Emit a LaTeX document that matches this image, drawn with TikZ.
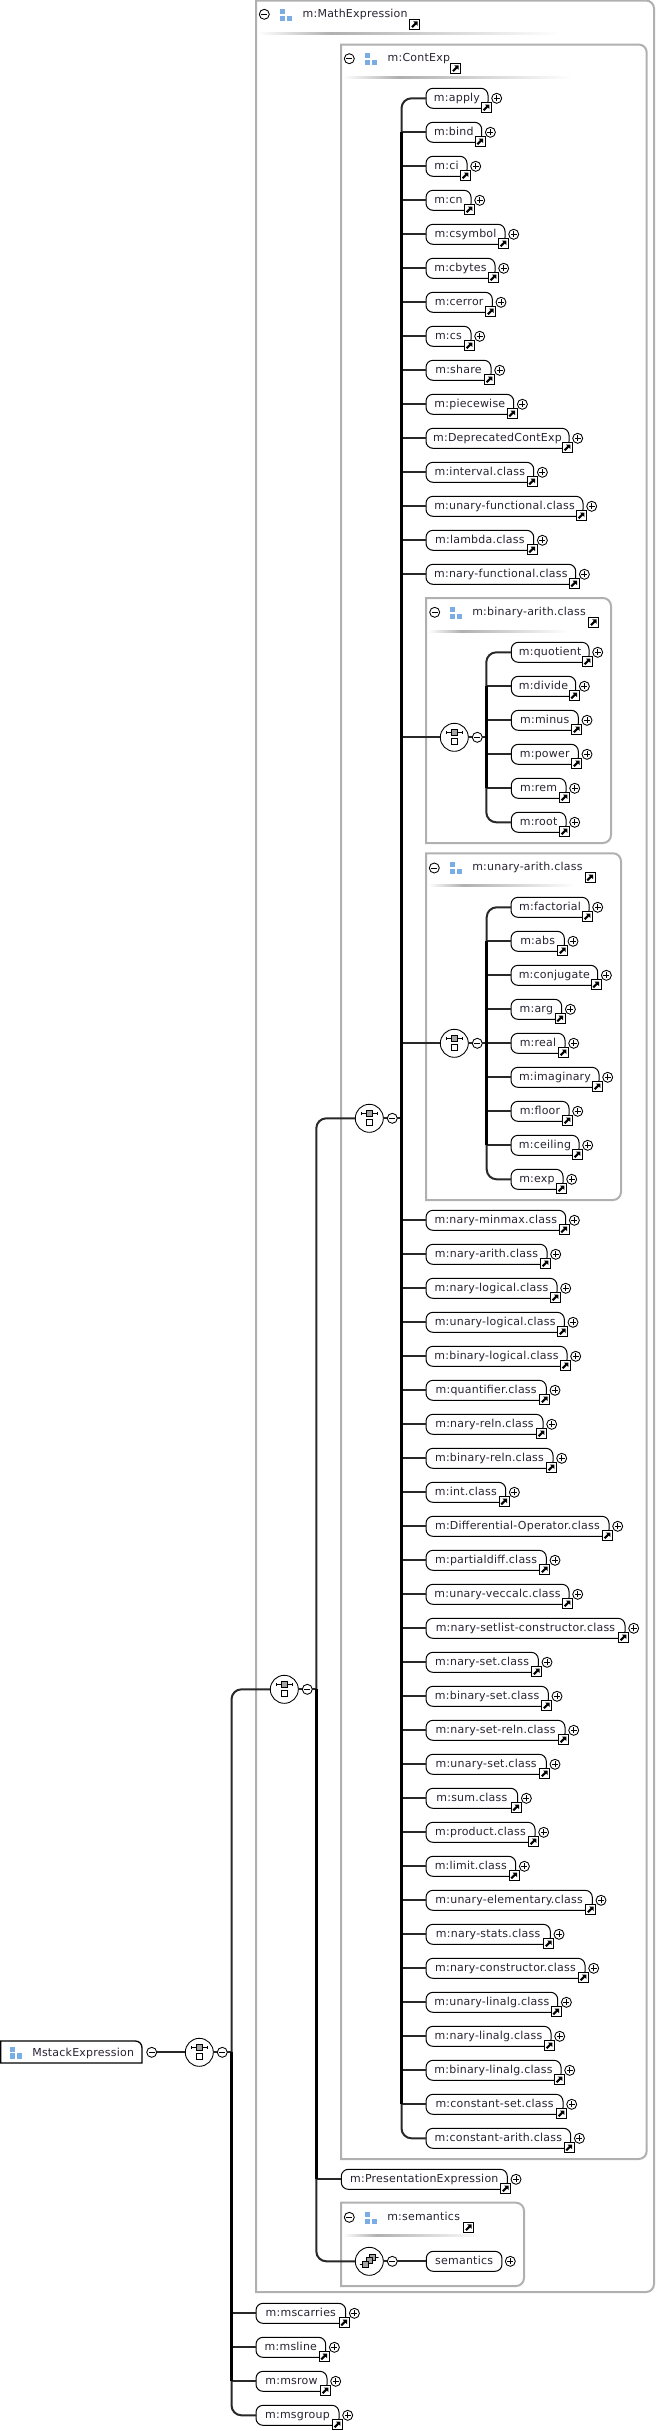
\documentclass[tikz,border=0pt]{standalone}
\usepackage{fontspec}
\setmainfont[LetterSpace=2]{DejaVu Sans}

\definecolor{framegray}{RGB}{176,176,176}
\definecolor{wireink}{RGB}{40,40,40}
\definecolor{labelink}{RGB}{40,35,50}
\definecolor{iconblue}{RGB}{122,173,227}
\definecolor{boxgray}{RGB}{165,165,165}

\pgfdeclarehorizontalshading{headerfade}{100bp}{color(0bp)=(white); color(25bp)=(white); color(37bp)=(framegray); color(75bp)=(white); color(100bp)=(white)}

\tikzset{
  every picture/.style={line width=0.75pt},
  labelfont/.style={font=\fontsize{8.25pt}{10pt}\selectfont, text=labelink, text height=6.6pt, text depth=1.1pt},
  pillnode/.style={labelfont, rectangle, draw=black, fill=white, line width=0.75pt, rounded corners=5.25pt, minimum height=15pt, inner xsep=0pt, inner ysep=0pt, outer sep=0pt, anchor=west},
  grouptitle/.style={labelfont, inner sep=0pt, outer sep=0pt, anchor=west},
  framebox/.style={draw=framegray, line width=1.5pt},
  branch/.style={draw=wireink, line width=1.5pt},
  stem/.style={draw=black, line width=2.7pt},
  plusmark/.style={circle, draw=black, fill=white, line width=0.65pt, minimum size=7.5pt, inner sep=0pt, outer sep=0pt,
    path picture={
      \draw[line width=0.6pt] ([xshift=-2.2pt]path picture bounding box.center) -- ([xshift=2.2pt]path picture bounding box.center);
      \draw[line width=0.6pt] ([yshift=-2.2pt]path picture bounding box.center) -- ([yshift=2.2pt]path picture bounding box.center);
    }},
  minusmark/.style={circle, draw=black, fill=white, line width=0.65pt, minimum size=7.5pt, inner sep=0pt, outer sep=0pt,
    path picture={
      \draw[line width=0.6pt] ([xshift=-2.2pt]path picture bounding box.center) -- ([xshift=2.2pt]path picture bounding box.center);
    }},
  linkbox/.style={rectangle, draw=black, fill=white, line width=0.75pt, minimum size=7.5pt, inner sep=0pt, outer sep=0pt,
    path picture={
      \begin{scope}[shift={(path picture bounding box.center)}, x=0.75pt, y=-0.75pt]
        \fill[black] (3,-3) -- (3,1.5) -- (1.5,0) -- (-2,3.5) -- (-3.5,2) -- (0,-1.5) -- (-1.5,-3) -- cycle;
      \end{scope}
    }},
  seqcircle/.style={circle, draw=black, fill=white, line width=0.65pt, minimum size=21pt, inner sep=0pt, outer sep=0pt,
    path picture={
      \begin{scope}[shift={(path picture bounding box.center)}, x=0.75pt, y=-0.75pt, line width=0.65pt]
        \draw (-8,-5) -- (8,-5);
        \draw (-8,-6.5) -- (-8,-3.5);
        \draw (8,-6.5) -- (8,-3.5);
        \draw[fill=boxgray] (-3,-8) rectangle (3,-2);
        \draw[fill=white] (-3,1.5) rectangle (3,7.5);
      \end{scope}
    }},
  allcircle/.style={circle, draw=black, fill=white, line width=0.65pt, minimum size=21pt, inner sep=0pt, outer sep=0pt,
    path picture={
      \begin{scope}[shift={(path picture bounding box.center)}, x=0.75pt, y=-0.75pt, line width=0.65pt]
        \draw (-10,3.5) -- (-6,3.5);
        \draw (5,-3.5) -- (10,-3.5);
        \fill (-10,3.5) circle (0.9);
        \fill (10,-3.5) circle (0.9);
        \draw[fill=boxgray] (0.5,-6.5) rectangle (6,-1);
        \draw[fill=boxgray] (-2.5,-3.5) rectangle (3,2);
        \draw[fill=boxgray] (-6.5,0.5) rectangle (-1,6);
      \end{scope}
    }},
  groupicon/.pic={
    \begin{scope}[yscale=-1]
      \fill[iconblue] (-6,-6) rectangle (-0.7,-0.7);
      \fill[iconblue] (-6,0.7) rectangle (-0.7,6);
      \fill[iconblue] (0.7,0.7) rectangle (6,6);
    \end{scope}
  },
}

% name, left, y, right, text
\newcommand{\pillbody}[5]{
  \node[pillnode, minimum width={(#4-#2)*0.75pt}] (#1) at (#2,#3) {#5};
  \node[linkbox] (#1Link) at (#4-1.7,#3+9.2) {};
  \node[plusmark] (#1Plus) at (#4+8.7,#3) {};
}
% name, trunk, left, y, right, text
\newcommand{\leafpill}[6]{
  \pillbody{#1}{#3}{#4}{#5}{#6}
  \draw[branch] (#2 |- #1.west) -- (#1.west);
}
% left, top, right, bottom
\newcommand{\groupframe}[4]{
  \draw[framebox] (#1,#2) -- (#1+40,#2) [rounded corners=6pt] -- (#3,#2) -- (#3,#4) -- (#1+40,#4) [sharp corners] -- (#1,#4) -- cycle;
}

\begin{document}
\begin{tikzpicture}[x=0.75pt,y=0.75pt,yscale=-1,xscale=1]
  \useasboundingbox (0,0) rectangle (657,2431);

  %Group frames
  \groupframe{256}{0.5}{654}{2292}
  \groupframe{341}{44.5}{646.7}{2159}
  \groupframe{426}{598}{611}{843}
  \groupframe{426}{853.3}{621}{1200}
  \groupframe{341}{2202.7}{524}{2286}

  %Header fades
  \shade[shading=headerfade] (258,32) rectangle (560,34);
  \shade[shading=headerfade] (343,76) rectangle (573,78);
  \shade[shading=headerfade] (428,630) rectangle (568,632);
  \shade[shading=headerfade] (428,884.7) rectangle (575,886.7);
  \shade[shading=headerfade] (343,2234.7) rectangle (482,2236.7);

  %Root element
  \draw[draw=black, line width=1pt] (0.7,2063) -- (0.7,2041) [rounded corners=5pt] -- (142,2041) [sharp corners] -- (142,2063) -- cycle;
  \pic at (16,2052.7) {groupicon};
  \node[grouptitle] (rootLabel) at (32.3,2052.4) {MstackExpression};
  \node[minusmark] (rootMinus) at (151.7,2052.3) {};

  %Trunk lines
  \coordinate (trunkOuter) at (231.5,2052.3);
  \coordinate (trunkMain) at (316.3,1689.3);
  \coordinate (trunkCont) at (401.5,1118.3);
  \coordinate (trunkBinary) at (486.3,737.3);
  \coordinate (trunkUnary) at (486.7,1043.3);

  %Compositor circles
  \node[seqcircle] (seqOne) at (199.3,2052.3) {};
  \node[minusmark] (seqOneMinus) at (222.3,2052.3) {};
  \node[seqcircle] (seqTwo) at (284.3,1689.3) {};
  \node[minusmark] (seqTwoMinus) at (307.3,1689.3) {};
  \node[seqcircle] (seqThree) at (369.3,1118.3) {};
  \node[minusmark] (seqThreeMinus) at (392.3,1118.3) {};
  \node[seqcircle] (seqBinary) at (454.3,737.3) {};
  \node[minusmark] (seqBinaryMinus) at (477.3,737.3) {};
  \node[seqcircle] (seqUnary) at (454.3,1043.3) {};
  \node[minusmark] (seqUnaryMinus) at (477.3,1043.3) {};
  \node[allcircle] (allSem) at (369.3,2261.3) {};
  \node[minusmark] (allSemMinus) at (392.3,2261.3) {};

  %Group headers
  \node[minusmark] (mathMinus) at (264.3,14.3) {};
  \pic at (286,15) {groupicon};
  \node[grouptitle] (mathTitle) at (302.7,14.3) {m:MathExpression};
  \node[linkbox] (mathLink) at (414.7,24.3) {};
  \node[minusmark] (contMinus) at (349.3,58.7) {};
  \pic at (371,59) {groupicon};
  \node[grouptitle] (contTitle) at (387.7,58.3) {m:ContExp};
  \node[linkbox] (contLink) at (455.7,68.3) {};
  \node[minusmark] (binaryMinus) at (434.7,612.3) {};
  \pic at (456,613) {groupicon};
  \node[grouptitle] (binaryTitle) at (472.3,612.3) {m:binary-arith.class};
  \node[linkbox] (binaryLink) at (593.7,622.3) {};
  \node[minusmark] (unaryMinus) at (434.3,868) {};
  \pic at (456,868) {groupicon};
  \node[grouptitle] (unaryTitle) at (472.3,867.3) {m:unary-arith.class};
  \node[linkbox] (unaryLink) at (590,877.7) {};
  \node[minusmark] (semMinus) at (349.3,2217.3) {};
  \pic at (371,2218) {groupicon};
  \node[grouptitle] (semTitle) at (387.3,2217.3) {m:semantics};
  \node[linkbox] (semLink) at (468.7,2227.3) {};

  %Content elements
  \pillbody{apply}{426}{98.3}{488}{m:apply}
  \leafpill{bind}{trunkCont}{426}{132.3}{481.7}{m:bind}
  \leafpill{ci}{trunkCont}{426}{166.3}{467}{m:ci}
  \leafpill{cn}{trunkCont}{426}{200.3}{471}{m:cn}
  \leafpill{csymbol}{trunkCont}{426}{234.3}{505}{m:csymbol}
  \leafpill{cbytes}{trunkCont}{426}{268.3}{495}{m:cbytes}
  \leafpill{cerror}{trunkCont}{426}{302.3}{492.3}{m:cerror}
  \leafpill{cs}{trunkCont}{426}{336.3}{471}{m:cs}
  \leafpill{share}{trunkCont}{426}{370.3}{491}{m:share}
  \leafpill{piecewise}{trunkCont}{426}{404.3}{513.7}{m:piecewise}
  \leafpill{deprecated}{trunkCont}{426}{438.3}{569}{m:DeprecatedContExp}
  \leafpill{interval}{trunkCont}{426}{472.3}{533.7}{m:interval.class}
  \leafpill{unaryFunctional}{trunkCont}{426}{506.3}{583}{m:unary-functional.class}
  \leafpill{lambda}{trunkCont}{426}{540.3}{533.7}{m:lambda.class}
  \leafpill{naryFunctional}{trunkCont}{426}{574.3}{575.7}{m:nary-functional.class}

  %Binary arith elements
  \pillbody{quotient}{511.3}{652.3}{589}{m:quotient}
  \leafpill{divide}{trunkBinary}{511.3}{686.3}{575.7}{m:divide}
  \leafpill{minus}{trunkBinary}{511.3}{720.3}{578.3}{m:minus}
  \leafpill{power}{trunkBinary}{511.3}{754.3}{578.3}{m:power}
  \leafpill{rem}{trunkBinary}{511.3}{788.3}{566}{m:rem}
  \pillbody{root}{511.3}{822.3}{566}{m:root}

  %Unary arith elements
  \pillbody{factorial}{511}{907.3}{589}{m:factorial}
  \leafpill{abs}{trunkUnary}{511}{941.3}{564.3}{m:abs}
  \leafpill{conjugate}{trunkUnary}{511}{975.3}{597.7}{m:conjugate}
  \leafpill{arg}{trunkUnary}{511}{1009.3}{561.7}{m:arg}
  \leafpill{real}{trunkUnary}{511}{1043.3}{565}{m:real}
  \leafpill{imaginary}{trunkUnary}{511}{1077.3}{599}{m:imaginary}
  \leafpill{floor}{trunkUnary}{511}{1111.3}{569}{m:floor}
  \leafpill{ceiling}{trunkUnary}{511}{1145.3}{579}{m:ceiling}
  \pillbody{exp}{511}{1179.3}{563}{m:exp}

  %More content elements
  \leafpill{naryMinmax}{trunkCont}{426}{1220.3}{565.7}{m:nary-minmax.class}
  \leafpill{naryArith}{trunkCont}{426}{1254.3}{547}{m:nary-arith.class}
  \leafpill{naryLogical}{trunkCont}{426}{1288.3}{557}{m:nary-logical.class}
  \leafpill{unaryLogical}{trunkCont}{426}{1322.3}{564.3}{m:unary-logical.class}
  \leafpill{binaryLogical}{trunkCont}{426}{1356.3}{567}{m:binary-logical.class}
  \leafpill{quantifier}{trunkCont}{426}{1390.3}{546.3}{m:quantifier.class}
  \leafpill{naryReln}{trunkCont}{426}{1424.3}{543}{m:nary-reln.class}
  \leafpill{binaryReln}{trunkCont}{426}{1458.3}{553}{m:binary-reln.class}
  \leafpill{intClass}{trunkCont}{426}{1492.3}{505.7}{m:int.class}
  \leafpill{differential}{trunkCont}{426}{1526.3}{609}{m:Differential-Operator.class}
  \leafpill{partialdiff}{trunkCont}{426}{1560.3}{546.3}{m:partialdiff.class}
  \leafpill{unaryVeccalc}{trunkCont}{426}{1594.3}{569}{m:unary-veccalc.class}
  \leafpill{narySetlist}{trunkCont}{426}{1628.3}{625}{m:nary-setlist-constructor.class}
  \leafpill{narySet}{trunkCont}{426}{1662.3}{538.3}{m:nary-set.class}
  \leafpill{binarySet}{trunkCont}{426}{1696.3}{548.3}{m:binary-set.class}
  \leafpill{narySetReln}{trunkCont}{426}{1730.3}{565}{m:nary-set-reln.class}
  \leafpill{unarySet}{trunkCont}{426}{1764.3}{546.3}{m:unary-set.class}
  \leafpill{sumClass}{trunkCont}{426}{1798.3}{517.7}{m:sum.class}
  \leafpill{productClass}{trunkCont}{426}{1832.3}{535}{m:product.class}
  \leafpill{limitClass}{trunkCont}{426}{1866.3}{515.7}{m:limit.class}
  \leafpill{unaryElementary}{trunkCont}{426}{1900.3}{592.3}{m:unary-elementary.class}
  \leafpill{naryStats}{trunkCont}{426}{1934.3}{550.3}{m:nary-stats.class}
  \leafpill{naryConstructor}{trunkCont}{426}{1968.3}{585}{m:nary-constructor.class}
  \leafpill{unaryLinalg}{trunkCont}{426}{2002.3}{557.7}{m:unary-linalg.class}
  \leafpill{naryLinalg}{trunkCont}{426}{2036.3}{551}{m:nary-linalg.class}
  \leafpill{binaryLinalg}{trunkCont}{426}{2070.3}{561}{m:binary-linalg.class}
  \leafpill{constantSet}{trunkCont}{426}{2104.3}{563}{m:constant-set.class}
  \pillbody{constantArith}{426}{2138.3}{570.7}{m:constant-arith.class}

  %Presentation and semantics
  \leafpill{presentation}{trunkMain}{341.3}{2179.3}{507.3}{m:PresentationExpression}
  \node[pillnode, minimum width=56.75pt] (semantics) at (426.3,2261.3) {semantics};
  \node[plusmark] (semanticsPlus) at (510.3,2261.3) {};

  %Outer elements
  \leafpill{mscarries}{trunkOuter}{256}{2313.3}{345.7}{m:mscarries}
  \leafpill{msline}{trunkOuter}{256}{2347.3}{325.7}{m:msline}
  \leafpill{msrow}{trunkOuter}{256}{2381.3}{327}{m:msrow}
  \pillbody{msgroup}{256}{2415.3}{339}{m:msgroup}

  %Straight connectors
  \draw[branch] (rootMinus.east) -- (seqOne.west);
  \draw[branch] (seqOne.east) -- (seqOneMinus.west);
  \draw[branch] (seqOneMinus.east) -- (trunkOuter);
  \draw[branch] (seqTwo.east) -- (seqTwoMinus.west);
  \draw[branch] (seqTwoMinus.east) -- (trunkMain);
  \draw[branch] (seqThree.east) -- (seqThreeMinus.west);
  \draw[branch] (seqThreeMinus.east) -- (seqThreeMinus.east -| trunkCont);
  \draw[branch] (seqBinary.west) -- (seqBinary.west -| trunkCont);
  \draw[branch] (seqBinary.east) -- (seqBinaryMinus.west);
  \draw[branch] (seqBinaryMinus.east) -- (trunkBinary);
  \draw[branch] (seqUnary.west) -- (seqUnary.west -| trunkCont);
  \draw[branch] (seqUnary.east) -- (seqUnaryMinus.west);
  \draw[branch] (seqUnaryMinus.east) -- (trunkUnary);
  \draw[branch] (allSem.east) -- (allSemMinus.west);
  \draw[branch] (allSemMinus.east) -- (semantics.west);

  %Brackets
  \draw[branch, rounded corners=7.5pt] (seqTwo.west) -- (seqTwo.west -| trunkOuter) -- (msgroup.west -| trunkOuter) -- (msgroup.west);
  \draw[branch, rounded corners=7.5pt] (seqThree.west) -- (seqThree.west -| trunkMain) -- (allSem.west -| trunkMain) -- (allSem.west);
  \draw[branch, rounded corners=7.5pt] (apply.west) -- (apply.west -| trunkCont) -- (constantArith.west -| trunkCont) -- (constantArith.west);
  \draw[branch, rounded corners=7.5pt] (quotient.west) -- (quotient.west -| trunkBinary) -- (root.west -| trunkBinary) -- (root.west);
  \draw[branch, rounded corners=7.5pt] (factorial.west) -- (factorial.west -| trunkUnary) -- (exp.west -| trunkUnary) -- (exp.west);

  %Thick stems
  \draw[stem] (trunkOuter) -- (msrow.west -| trunkOuter);
  \draw[stem, line width=2pt] (trunkMain) -- (presentation.west -| trunkMain);
  \draw[stem] (bind.west -| trunkCont) -- (constantSet.west -| trunkCont);
  \draw[stem, line width=2pt] (divide.west -| trunkBinary) -- (rem.west -| trunkBinary);
  \draw[stem, line width=2pt] (abs.west -| trunkUnary) -- (ceiling.west -| trunkUnary);
\end{tikzpicture}
\end{document}
